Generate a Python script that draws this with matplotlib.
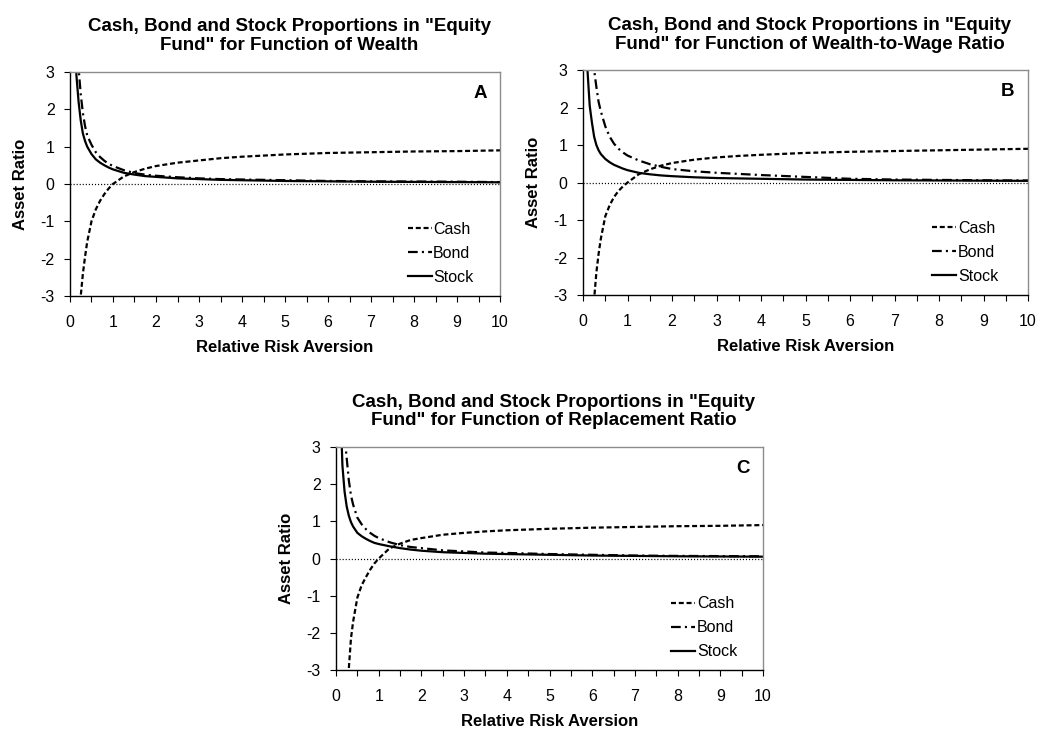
import numpy as np
import matplotlib
matplotlib.use("Agg")
import matplotlib.pyplot as plt

plt.rcParams['font.family'] = ['Liberation Sans', 'DejaVu Sans']
plt.rcParams['axes.unicode_minus'] = False
plt.rcParams['lines.scale_dashes'] = False

# relative risk aversion grid
rra = [0.1, 0.15, 0.2, 0.25, 0.3, 0.35, 0.4, 0.5, 0.6, 0.7, 0.8, 0.9, 1.0,
       1.25, 1.5, 1.75, 2.0, 2.5, 3.0, 3.5, 4.0, 5.0, 6.0, 7.0, 8.0, 9.0, 10.0]

# panel A: function of wealth
cash_a = [-9, -5.7, -4.0, -3.0, -2.4, -1.95, -1.55, -1.0, -0.68, -0.45, -0.27, -0.12, 0.0,
          0.2, 0.32, 0.41, 0.48, 0.57, 0.63, 0.69, 0.73, 0.79, 0.83, 0.85, 0.87, 0.88, 0.9]
bond_a = [6.0, 4.0, 3.1, 2.4, 1.9, 1.55, 1.3, 1.05, 0.85, 0.72, 0.62, 0.54, 0.48,
          0.37, 0.29, 0.25, 0.22, 0.18, 0.15, 0.13, 0.12, 0.1, 0.08, 0.07, 0.065, 0.06, 0.05]
stock_a = [4.5, 2.9, 2.2, 1.7, 1.35, 1.15, 1.0, 0.8, 0.66, 0.57, 0.5, 0.44, 0.39,
           0.3, 0.25, 0.21, 0.19, 0.15, 0.13, 0.11, 0.1, 0.08, 0.07, 0.06, 0.055, 0.05, 0.045]

# panel B: function of wealth-to-wage ratio
cash_b = [-9, -5.5, -4.0, -3.1, -2.4, -1.9, -1.5, -0.9, -0.6, -0.38, -0.22, -0.1, 0.0,
          0.22, 0.35, 0.45, 0.52, 0.61, 0.67, 0.71, 0.74, 0.79, 0.82, 0.84, 0.86, 0.88, 0.9]
bond_b = [7.0, 5.0, 3.7, 3.0, 2.55, 2.15, 1.9, 1.5, 1.22, 1.03, 0.9, 0.8, 0.72,
          0.59, 0.49, 0.42, 0.36, 0.3, 0.26, 0.23, 0.2, 0.15, 0.1, 0.08, 0.07, 0.06, 0.055]
stock_b = [3.0, 2.05, 1.6, 1.22, 1.0, 0.86, 0.76, 0.63, 0.54, 0.47, 0.42, 0.37, 0.33,
           0.26, 0.22, 0.19, 0.17, 0.14, 0.12, 0.11, 0.1, 0.08, 0.07, 0.06, 0.055, 0.05, 0.045]

# panel C: function of replacement ratio
cash_c = [-9, -5.5, -4.2, -3.5, -2.95, -2.15, -1.7, -1.05, -0.72, -0.5, -0.3, -0.13, 0.0,
          0.27, 0.4, 0.5, 0.55, 0.64, 0.69, 0.73, 0.76, 0.8, 0.83, 0.85, 0.87, 0.88, 0.9]
bond_c = [6.5, 4.5, 3.3, 2.7, 2.1, 1.7, 1.45, 1.1, 0.92, 0.79, 0.69, 0.61, 0.55,
          0.44, 0.36, 0.31, 0.28, 0.22, 0.19, 0.16, 0.15, 0.12, 0.1, 0.08, 0.07, 0.065, 0.06]
stock_c = [4.2, 2.5, 1.8, 1.4, 1.15, 0.98, 0.86, 0.69, 0.6, 0.53, 0.47, 0.42, 0.39,
           0.33, 0.28, 0.24, 0.21, 0.17, 0.15, 0.13, 0.12, 0.1, 0.08, 0.07, 0.06, 0.055, 0.05]

titles = ['Cash, Bond and Stock Proportions in "Equity\nFund" for Function of Wealth',
          'Cash, Bond and Stock Proportions in "Equity\nFund" for Function of Wealth-to-Wage Ratio',
          'Cash, Bond and Stock Proportions in "Equity\nFund" for Function of Replacement Ratio']
letters = ['A', 'B', 'C']
panels = [(cash_a, bond_a, stock_a), (cash_b, bond_b, stock_b), (cash_c, bond_c, stock_c)]

fig = plt.figure(figsize=(10.4, 7.29), dpi=100)
rects = [[0.0673, 0.594, 0.4135, 0.3073],
         [0.5606, 0.5953, 0.4279, 0.3086],
         [0.3231, 0.0809, 0.4106, 0.3059]]

for rect, (cash, bond, stock), title, letter in zip(rects, panels, titles, letters):
    ax = fig.add_axes(rect)
    ax.axhline(0, color='black', lw=0.9, dashes=(0.8, 1.4))
    ax.plot(rra, cash, color='black', lw=1.6, dashes=(3.6, 2.0), label='Cash')
    ax.plot(rra, bond, color='black', lw=1.6, dashes=(7, 3, 1.5, 3), label='Bond')
    ax.plot(rra, stock, color='black', lw=1.6, label='Stock')
    ax.set_xlim(0, 10)
    ax.set_ylim(-3, 3)
    ax.set_xticks(np.arange(0, 11, 1))
    ax.set_xticks(np.arange(0.5, 10, 1), minor=True)
    ax.set_yticks(np.arange(-3, 4, 1))
    ax.tick_params(which='both', direction='out', length=4.5, width=0.8, labelsize=11.5)
    ax.tick_params(axis='x', pad=9.5)
    ax.tick_params(axis='y', pad=6.5)
    for s in ['top', 'right']:
        ax.spines[s].set_color('#8c8c8c')
        ax.spines[s].set_linewidth(1.0)
    for s in ['left', 'bottom']:
        ax.spines[s].set_linewidth(1.0)
    ax.set_xlabel('Relative Risk Aversion', fontweight='bold', fontsize=12, labelpad=7)
    ax.set_ylabel('Asset Ratio', fontweight='bold', fontsize=12, labelpad=9)
    ax.set_title(title, fontweight='bold', fontsize=13.5, x=0.51, pad=15.5, linespacing=1.15)
    ax.text(0.953, 0.905, letter, transform=ax.transAxes, ha='center', va='center',
            fontweight='bold', fontsize=13.5)
    ax.legend(loc='upper left', bbox_to_anchor=(0.785, 0.33), frameon=False,
              fontsize=11.5, handlelength=1.5, handletextpad=0.1, labelspacing=0.56,
              borderpad=0, borderaxespad=0)

fig.savefig('out.png', dpi=100)
